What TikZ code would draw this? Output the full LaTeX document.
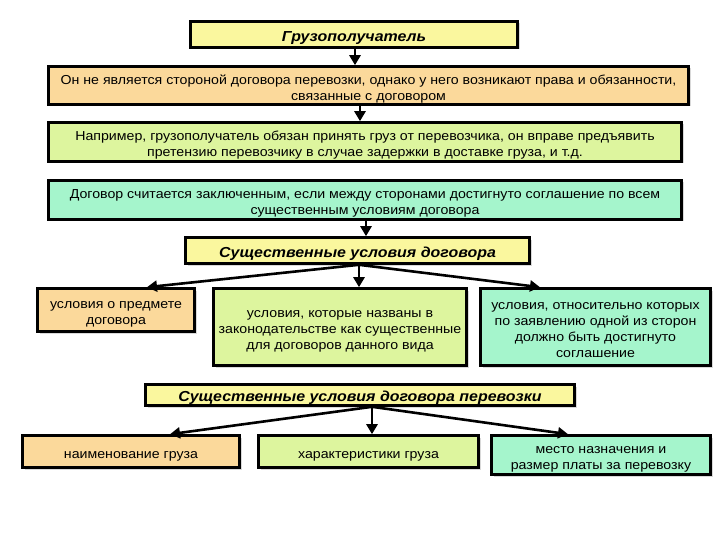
\documentclass[tikz,border=0pt]{standalone}
\usepackage{fontspec}
\setmainfont{Liberation Sans}
\newfontfamily\bodyfont[FakeStretch=1.09]{Liberation Sans}
\newfontfamily\hdrfont[FakeStretch=1.1]{Liberation Sans}
\usetikzlibrary{arrows.meta,shadows}
\definecolor{cyel}{HTML}{FAF79E}
\definecolor{cpeach}{HTML}{FBD99B}
\definecolor{cgreen}{HTML}{DDF59E}
\definecolor{ccyan}{HTML}{A5F5CC}
\newcommand{\boxtxt}[1]{\raisebox{-3.5pt}[\height][\depth]{\begin{tabular}{@{}c@{}}#1\end{tabular}}}
\tikzset{
  box/.style={draw=black, line width=2.6pt, rectangle, inner sep=0pt,
    font=\bodyfont\fontsize{13}{16}\selectfont,
    drop shadow={shadow xshift=2pt, shadow yshift=-2pt, fill=black, opacity=0.15}},
  hdr/.style={box, font=\hdrfont\fontsize{14.5}{16}\selectfont\bfseries\itshape},
  arr/.style={draw=black, line width=2.6pt, -{Triangle[length=10pt,width=11pt]}}
}
\begin{document}
\begin{tikzpicture}[x=1pt,y=-1pt]
\useasboundingbox (0,0) rectangle (720,540);
\fill[white] (0,0) rectangle (720,540);

\node[hdr, fill=cyel, minimum width=327pt, minimum height=26pt] (b1) at (354,34.5) {\boxtxt{Грузополучатель}};
\node[box, fill=cpeach, minimum width=640pt, minimum height=38pt] (b2) at (368.5,85.5)
  {\boxtxt{Он не является стороной договора перевозки, однако у него возникают права и обязанности,\\связанные с договором}};
\node[box, fill=cgreen, minimum width=633pt, minimum height=39pt] (b3) at (365,142)
  {\boxtxt{Например, грузополучатель обязан принять груз от перевозчика, он вправе предъявить\\претензию перевозчику в случае задержки в доставке груза, и т.д.}};
\node[box, fill=ccyan, minimum width=633pt, minimum height=39pt] (b4) at (365,200)
  {\boxtxt{Договор считается заключенным, если между сторонами достигнуто соглашение по всем\\существенным условиям договора}};
\node[hdr, fill=cyel, minimum width=344pt, minimum height=26pt] (b5) at (357.5,250.5) {\boxtxt{Существенные условия договора}};
\node[box, fill=cpeach, minimum width=157pt, minimum height=43pt] (b6a) at (116,310)
  {\boxtxt{условия о предмете\\договора}};
\node[box, fill=cgreen, minimum width=253pt, minimum height=77pt] (b6b) at (340,327)
  {\boxtxt{условия, которые названы в\\законодательстве как существенные\\для договоров данного вида}};
\node[box, fill=ccyan, minimum width=230pt, minimum height=77pt] (b6c) at (595.5,327)
  {\boxtxt{условия, относительно которых\\по заявлению одной из сторон\\должно быть достигнуто\\соглашение}};
\node[hdr, fill=cyel, minimum width=429pt, minimum height=21pt] (b7) at (360,395) {\boxtxt{Существенные условия договора перевозки}};
\node[box, fill=cpeach, minimum width=217pt, minimum height=32pt] (b8a) at (131,451.5) {\boxtxt{наименование груза}};
\node[box, fill=cgreen, minimum width=220pt, minimum height=32pt] (b8b) at (368.5,451.5) {\boxtxt{характеристики груза}};
\node[box, fill=ccyan, minimum width=219pt, minimum height=39pt] (b8c) at (601,455)
  {\boxtxt{место назначения и\\размер платы за перевозку}};

\coordinate (x1) at (355,0);
\coordinate (x2) at (360,0);
\coordinate (x4) at (366,0);
\coordinate (x5) at (359,0);
\coordinate (x6a) at (147,0);
\coordinate (x6c) at (540,0);
\coordinate (x7) at (372,0);
\coordinate (x8a) at (170,0);
\coordinate (x8c) at (568,0);

\draw[arr] (b1.south -| x1) -- (b2.north -| x1);
\draw[arr] (b2.south -| x2) -- (b3.north -| x2);
\draw[arr] (b4.south -| x4) -- (b5.north -| x4);
\draw[arr] (b5.south -| x5) -- (b6a.north -| x6a);
\draw[arr] (b5.south -| x5) -- (b6b.north -| x5);
\draw[arr] (b5.south -| x5) -- (b6c.north -| x6c);
\draw[arr] (b7.south -| x7) -- (b8a.north -| x8a);
\draw[arr] (b7.south -| x7) -- (b8b.north -| x7);
\draw[arr] (b7.south -| x7) -- (b8c.north -| x8c);
\end{tikzpicture}
\end{document}
